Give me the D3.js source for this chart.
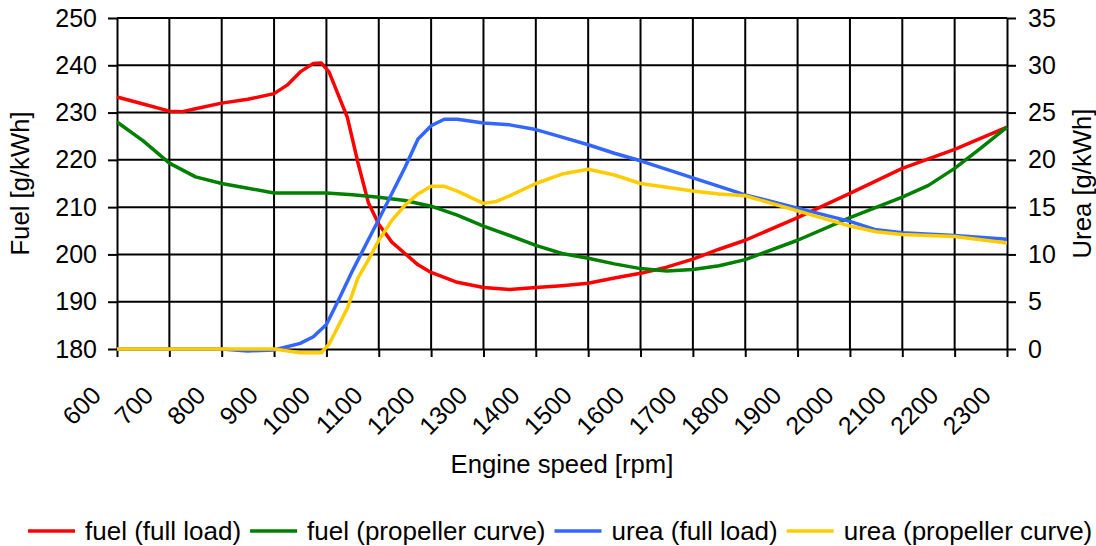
<!DOCTYPE html>
<html>
<head>
<meta charset="utf-8">
<script src="https://cdn.jsdelivr.net/npm/d3@7"></script>
<style>
  body { margin: 0; background: #fff; }
  svg { display: block; font-family: Arial, "Liberation Sans", sans-serif; }
  .axis text { font-size: 25px; fill: #000; }
  .axis path, .axis line { stroke: #000; stroke-width: 2px; }
  .grid line { stroke: #000; stroke-width: 2px; }
  .title { font-size: 25.7px; fill: #000; }
  .legend text { font-size: 26px; fill: #000; }
</style>
</head>
<body>
<svg id="chart" width="1096" height="546"></svg>
<script>
// ticks
var rpmTicks = [600, 700, 800, 900, 1000, 1100, 1200, 1300, 1400, 1500, 1600, 1700, 1800, 1900, 2000, 2100, 2200, 2300],
  fuelTicks = [180, 190, 200, 210, 220, 230, 240, 250],
  ureaTicks = [0, 5, 10, 15, 20, 25, 30, 35];

// [rpm, g/kWh]
var fuelFull = [
  [600, 233.3], [650, 231.8], [700, 230.3], [725, 230.2], [750, 230.8], [800, 232], [850, 232.8],
  [900, 234], [925, 235.8], [950, 238.6], [975, 240.4], [990, 240.5], [1005, 238.6], [1040, 229],
  [1060, 219.5], [1080, 211], [1100, 206.4], [1125, 202.6], [1150, 200.2], [1175, 197.8], [1200, 196.2],
  [1250, 194.1], [1300, 193], [1350, 192.6], [1400, 193], [1450, 193.4], [1500, 193.9], [1550, 195],
  [1600, 196], [1650, 197.3], [1700, 199], [1750, 201.1], [1800, 203], [1900, 207.8], [2000, 212.9],
  [2100, 218.2], [2200, 222.2], [2300, 226.9]
];

var fuelProp = [
  [600, 228], [650, 224], [700, 219.3], [750, 216.4], [800, 215], [850, 214], [900, 213], [950, 213],
  [1000, 213], [1050, 212.6], [1100, 212.1], [1150, 211.4], [1200, 210.2], [1250, 208.3], [1300, 206],
  [1350, 204], [1400, 201.9], [1450, 200.2], [1500, 199.2], [1550, 198], [1600, 197], [1650, 196.5],
  [1700, 196.8], [1750, 197.6], [1800, 198.9], [1900, 203], [2000, 207.8], [2100, 212.1], [2150, 214.6],
  [2200, 218.2], [2250, 222.5], [2300, 226.9]
];

var ureaFull = [
  [600, 0], [700, 0], [800, 0], [850, -0.2], [900, -0.1], [950, 0.6], [975, 1.3], [1000, 2.6],
  [1025, 5.4], [1050, 8.3], [1100, 13.7], [1150, 19.2], [1175, 22.2], [1200, 23.6], [1225, 24.3],
  [1250, 24.3], [1300, 23.9], [1350, 23.7], [1400, 23.2], [1450, 22.4], [1500, 21.6], [1550, 20.7],
  [1600, 19.9], [1650, 19], [1700, 18.1], [1750, 17.2], [1800, 16.3], [1900, 14.9], [2000, 13.5],
  [2050, 12.6], [2100, 12.3], [2200, 12], [2300, 11.6]
];

var ureaProp = [
  [600, 0], [700, 0], [800, 0], [900, 0], [950, -0.4], [990, -0.4], [1005, 0.5], [1040, 4.3],
  [1060, 7.5], [1080, 9.4], [1100, 11.5], [1125, 13.6], [1150, 15.2], [1175, 16.4], [1200, 17.2],
  [1225, 17.2], [1250, 16.7], [1300, 15.4], [1325, 15.6], [1350, 16.2], [1400, 17.5], [1450, 18.5],
  [1500, 19], [1550, 18.4], [1600, 17.5], [1650, 17.1], [1700, 16.7], [1750, 16.4], [1800, 16.2],
  [1900, 14.6], [2000, 13], [2050, 12.4], [2100, 12.1], [2200, 11.9], [2300, 11.2]
];

var seriesNames = ["fuel (full load)", "fuel (propeller curve)", "urea (full load)", "urea (propeller curve)"],
  seriesColors = ["#ff0000", "#008000", "#3366ff", "#ffcc00"];

var svg = d3.select("#chart"),
  m = {top: 18, right: 89, bottom: 197, left: 117},
  W = +svg.attr("width") - m.left - m.right,
  H = +svg.attr("height") - m.top - m.bottom;

var x = d3.scaleLinear().domain([600, 2300]).range([0, W]),
  yFuel = d3.scaleLinear().domain([180, 250]).range([H, 0]),
  yUrea = d3.scaleLinear().domain([0, 35]).range([H, 0]);

var g = svg.append("g").attr("transform", "translate(" + m.left + "," + m.top + ")");

// grid
var grid = g.append("g").attr("class", "grid");
grid.selectAll("line.h")
  .data(fuelTicks.slice(1))
  .enter().append("line")
  .attr("class", "h")
  .attr("x1", 0).attr("x2", W)
  .attr("y1", yFuel).attr("y2", yFuel);
grid.selectAll("line.v")
  .data(rpmTicks.slice(1, -1))
  .enter().append("line")
  .attr("class", "v")
  .attr("x1", x).attr("x2", x)
  .attr("y1", 0).attr("y2", H);

// axes
g.append("g")
  .attr("class", "axis")
  .call(d3.axisLeft(yFuel).tickValues(fuelTicks).tickSize(9).tickSizeOuter(0).tickPadding(11));

g.append("g")
  .attr("class", "axis")
  .attr("transform", "translate(" + W + ",0)")
  .call(d3.axisRight(yUrea).tickValues(ureaTicks).tickSize(9).tickSizeOuter(0).tickPadding(12));

var xAxis = g.append("g")
  .attr("class", "axis")
  .attr("transform", "translate(0," + H + ")")
  .call(d3.axisBottom(x).tickValues(rpmTicks).tickSize(8).tickSizeOuter(0).tickFormat(d3.format("d")));

xAxis.selectAll(".tick text")
  .attr("y", 0).attr("dy", 0)
  .attr("text-anchor", "end")
  .attr("transform", "translate(-15,48) rotate(-45)");

// series lines
var lineFuel = d3.line().x(function(d){ return x(d[0]); }).y(function(d){ return yFuel(d[1]); }),
  lineUrea = d3.line().x(function(d){ return x(d[0]); }).y(function(d){ return yUrea(d[1]); });

[[fuelFull, lineFuel], [fuelProp, lineFuel], [ureaFull, lineUrea], [ureaProp, lineUrea]]
  .forEach(function(s, i){
    g.append("path")
      .attr("d", s[1](s[0]))
      .attr("fill", "none")
      .attr("stroke", seriesColors[i])
      .attr("stroke-width", 3.5)
      .attr("stroke-linejoin", "round");
  });

// titles
svg.append("text")
  .attr("class", "title")
  .attr("x", m.left + W / 2).attr("y", 473)
  .attr("text-anchor", "middle")
  .text("Engine speed [rpm]");

svg.append("text")
  .attr("class", "title")
  .attr("transform", "translate(29," + (m.top + H / 2) + ") rotate(-90)")
  .attr("text-anchor", "middle")
  .text("Fuel [g/kWh]");

svg.append("text")
  .attr("class", "title")
  .attr("transform", "translate(1091," + (m.top + H / 2) + ") rotate(-90)")
  .attr("text-anchor", "middle")
  .text("Urea [g/kWh]");

// legend, laid out left to right
var legend = svg.append("g").attr("class", "legend"),
  cx = 28;

seriesNames.forEach(function(name, i){
  var item = legend.append("g").attr("transform", "translate(" + cx + ",0)");
  item.append("line")
    .attr("x1", 0).attr("x2", 47)
    .attr("y1", 531).attr("y2", 531)
    .attr("stroke", seriesColors[i])
    .attr("stroke-width", 3.5);
  var t = item.append("text")
    .attr("x", 57).attr("y", 540)
    .text(name);
  cx += 57 + t.node().getComputedTextLength() + 9;
});
</script>
</body>
</html>
